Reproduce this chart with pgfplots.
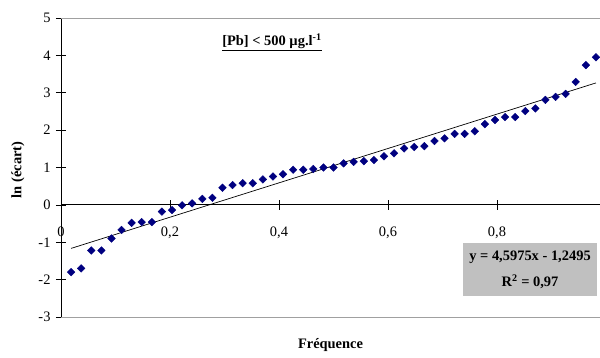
\documentclass[border=0pt]{standalone}
\usepackage{pgfplots}
\pgfplotsset{compat=1.18}
\usepackage{pgfplotstable}
\usepackage{fontspec}
\setmainfont{Liberation Serif}
\definecolor{navyb}{HTML}{000080}
\definecolor{boxgray}{HTML}{C0C0C0}
\definecolor{bordergray}{HTML}{A0A0A0}
\pgfplotstableread{
x y
0.0185 -1.80
0.0370 -1.70
0.0556 -1.22
0.0741 -1.22
0.0926 -0.90
0.1111 -0.67
0.1296 -0.48
0.1481 -0.46
0.1667 -0.46
0.1852 -0.18
0.2037 -0.14
0.2222 -0.01
0.2407 0.04
0.2593 0.16
0.2778 0.19
0.2963 0.46
0.3148 0.53
0.3333 0.58
0.3519 0.58
0.3704 0.68
0.3889 0.76
0.4074 0.82
0.4259 0.94
0.4444 0.94
0.4630 0.96
0.4815 1.00
0.5000 1.00
0.5185 1.11
0.5370 1.15
0.5556 1.17
0.5741 1.20
0.5926 1.30
0.6111 1.38
0.6296 1.51
0.6481 1.55
0.6667 1.57
0.6852 1.71
0.7037 1.78
0.7222 1.90
0.7407 1.90
0.7593 1.97
0.7778 2.16
0.7963 2.27
0.8148 2.35
0.8333 2.35
0.8519 2.51
0.8704 2.58
0.8889 2.81
0.9074 2.89
0.9259 2.97
0.9444 3.29
0.9630 3.74
0.9815 3.95
}\datatable
\begin{document}
\begin{tikzpicture}
\useasboundingbox (-61bp,-41bp) rectangle (539bp,317bp);
\begin{axis}[
  scale only axis, width=539bp, height=299bp,
  xmin=0, xmax=0.989, ymin=-3, ymax=5,
  axis lines=middle,
  axis line style={-, black, line width=0.8pt},
  xtick={0,0.2,0.4,0.6,0.8}, ytick={-3,-2,-1,0,1,2,3,4,5},
  hide obscured x ticks=false, hide obscured y ticks=false,
  tick align=center, major tick length=10bp,
  tick style={black, line width=0.6pt},
  /pgf/number format/use comma,
  /pgf/number format/assume math mode=true,
  ticklabel style={font=\fontsize{14.5}{17}\selectfont},
  xticklabel style={yshift=-13bp},
  yticklabel style={xshift=-2bp},
  xlabel={\textbf{Fréquence}},
  ylabel={\textbf{ln (écart)}},
  xlabel style={at={(axis description cs:0.5,-0.094)}, anchor=center, font=\fontsize{14.5}{17}\selectfont},
  ylabel style={at={(axis description cs:-0.080,0.492)}, anchor=center, rotate=90, font=\fontsize{14.5}{17}\selectfont},
  clip=false,
]
\draw[bordergray, line width=0.8pt] (axis cs:0,5) -- (axis cs:0.989,5);
\draw[bordergray, line width=0.8pt] (axis cs:0,-3) -- (axis cs:0.989,-3);
\addplot[only marks, mark=square*, mark size=2.7bp, mark options={rotate=45, fill=navyb, draw=navyb}] table[x=x,y=y] {\datatable};
\addplot[black, line width=0.7pt] coordinates {(0.0185,-1.1644) (0.9815,3.2629)};
\node[font=\fontsize{14.5}{17}\selectfont\bfseries] at (axis cs:0.387,4.36) {\underline{[Pb] < 500 µg.l\textsuperscript{-1}}};
\fill[boxgray] (axis cs:0.7376,-1.026) rectangle (axis cs:0.9835,-2.446);
\node[font=\fontsize{14.5}{17}\selectfont\bfseries] at (axis cs:0.8606,-1.409) {y = 4,5975x - 1,2495};
\node[font=\fontsize{14.5}{17}\selectfont\bfseries] at (axis cs:0.8606,-2.064) {R\textsuperscript{2} = 0,97};
\end{axis}
\end{tikzpicture}
\end{document}
